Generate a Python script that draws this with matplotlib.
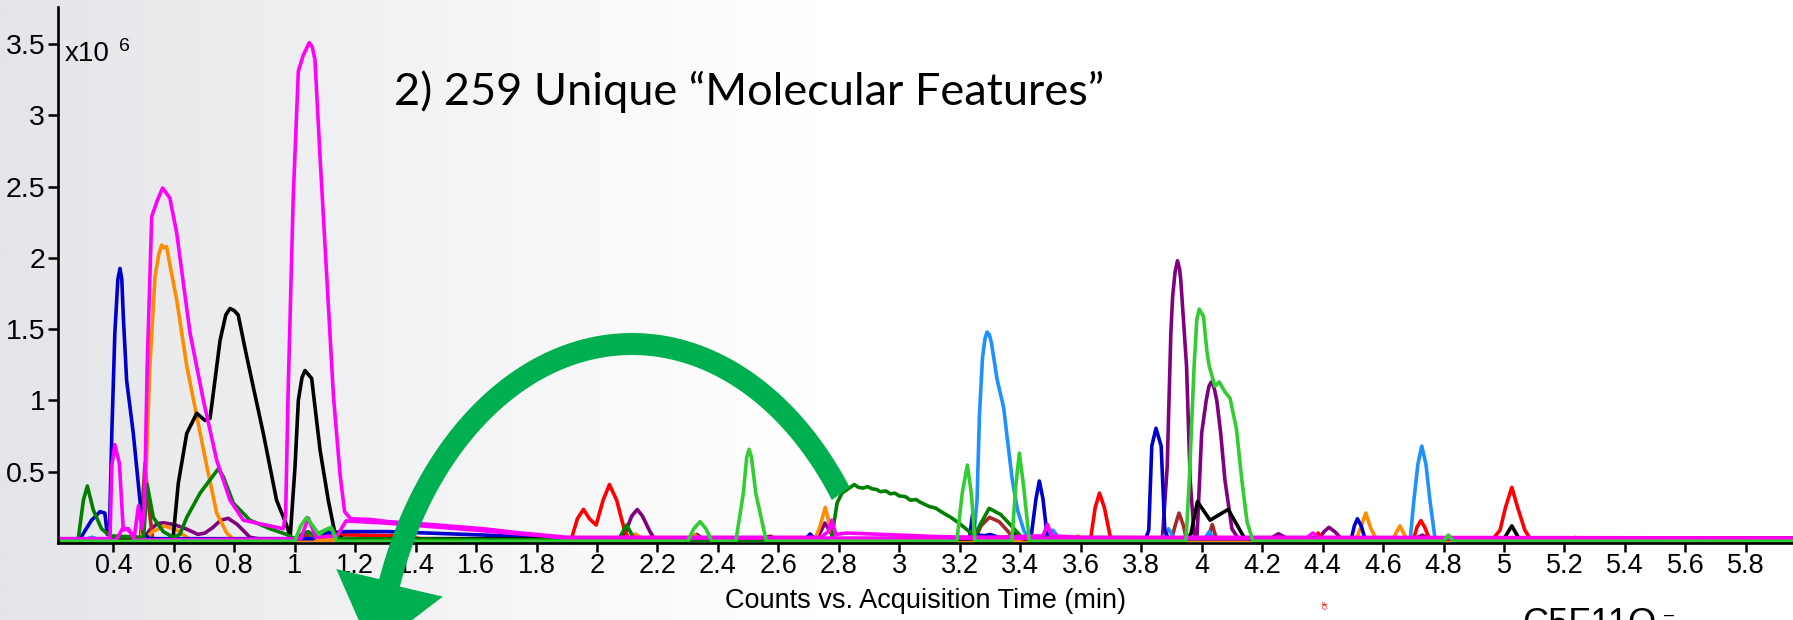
import numpy as np
import matplotlib
matplotlib.use("Agg")
import matplotlib.pyplot as plt
import matplotlib.transforms as mtransforms
from matplotlib.patches import Polygon

# retention time (min) / counts (x10^6)
t_magenta = [0.22, 0.38, 0.389, 0.395, 0.405, 0.420, 0.433, 0.44, 0.45, 0.47, 0.483, 0.495, 0.503,
             0.512, 0.527, 0.545, 0.563, 0.587, 0.610, 0.630, 0.654, 0.698, 0.742, 0.786, 0.830,
             0.896, 0.962, 0.970, 0.978, 0.995, 1.012, 1.028, 1.037, 1.048, 1.058, 1.067, 1.084,
             1.106, 1.128, 1.150, 1.165, 1.185, 1.25, 1.307, 1.45, 1.623, 1.75, 1.902, 2.0, 2.74,
             2.765, 2.776, 2.79, 2.826, 3.138, 3.3, 3.475, 3.49, 3.505, 3.6, 4.35, 4.368, 4.385,
             5.956]
i_magenta = [0.03, 0.03, 0.04, 0.54, 0.69, 0.56, 0.09, 0.10, 0.09, 0.05, 0.26, 0.10, 0.25,
             1.24, 2.29, 2.40, 2.49, 2.42, 2.17, 1.85, 1.47, 1.00, 0.58, 0.30, 0.16,
             0.13, 0.10, 0.20, 1.04, 2.42, 3.31, 3.42, 3.46, 3.51, 3.48, 3.39, 2.70,
             1.87, 1.035, 0.48, 0.22, 0.17, 0.165, 0.15, 0.13, 0.10, 0.07, 0.04, 0.04, 0.04,
             0.08, 0.16, 0.06, 0.07, 0.044, 0.04, 0.05, 0.13, 0.05, 0.04, 0.04, 0.07, 0.04,
             0.035]

t_magenta2 = [0.22, 0.41, 0.43, 0.45, 0.47, 1.02, 1.045, 1.07, 1.14, 1.17, 1.3, 1.6, 1.9, 5.956]
i_magenta2 = [0.02, 0.02, 0.10, 0.10, 0.02, 0.03, 0.175, 0.04, 0.05, 0.155, 0.14, 0.09, 0.035, 0.03]

t_orange = [0.22, 0.48, 0.494, 0.505, 0.521, 0.538, 0.550, 0.560, 0.568, 0.576, 0.590, 0.610,
            0.643, 0.676, 0.709, 0.742, 0.775, 0.80, 2.09, 2.126, 2.16, 2.29, 2.32, 2.35, 2.55,
            2.575, 2.60, 2.72, 2.738, 2.755, 2.77, 2.785, 3.57, 3.59, 3.61, 4.51, 4.528, 4.543,
            4.56, 4.58, 4.63, 4.656, 4.68, 5.21, 5.235, 5.26, 5.956]
i_orange = [0.02, 0.02, 0.05, 0.30, 1.24, 1.87, 2.02, 2.09, 2.07, 2.08, 1.92, 1.70,
            1.24, 0.89, 0.54, 0.21, 0.07, 0.02, 0.02, 0.063, 0.02, 0.02, 0.06, 0.02, 0.02,
            0.05, 0.02, 0.02, 0.12, 0.25, 0.12, 0.02, 0.02, 0.05, 0.02, 0.02, 0.12, 0.21,
            0.10, 0.02, 0.02, 0.12, 0.02, 0.02, 0.04, 0.02, 0.02]

t_orange2 = [0.22, 0.50, 0.53, 0.57, 0.61, 0.65, 5.956]
i_orange2 = [0.02, 0.02, 0.08, 0.12, 0.09, 0.03, 0.02]

t_blue = [0.22, 0.29, 0.328, 0.356, 0.372, 0.38, 0.387, 0.395, 0.405, 0.415, 0.422, 0.428, 0.433,
          0.444, 0.466, 0.488, 0.499, 0.52, 1.06, 1.10, 1.172, 1.307, 1.623, 1.90, 2.69, 2.705,
          2.72, 3.232, 3.242, 3.252, 3.28, 3.30, 3.33, 3.435, 3.452, 3.463, 3.475, 3.49, 3.815,
          3.825, 3.835, 3.849, 3.866, 3.878, 3.89, 4.495, 4.505, 4.515, 4.528, 4.54, 5.956]
i_blue = [0.02, 0.03, 0.16, 0.22, 0.21, 0.06, 0.07, 0.77, 1.47, 1.85, 1.926, 1.85, 1.59,
          1.14, 0.77, 0.30, 0.07, 0.03, 0.03, 0.07, 0.08, 0.08, 0.056, 0.03, 0.03, 0.063,
          0.03, 0.03, 0.20, 0.06, 0.05, 0.06, 0.04, 0.03, 0.31, 0.435, 0.31, 0.03, 0.03,
          0.09, 0.68, 0.805, 0.68, 0.09, 0.03, 0.03, 0.12, 0.17, 0.12, 0.03, 0.03]

t_black = [0.22, 0.59, 0.598, 0.615, 0.643, 0.676, 0.703, 0.720, 0.753, 0.772, 0.786, 0.800,
           0.813, 0.841, 0.896, 0.940, 0.973, 0.985, 1.001, 1.012, 1.024, 1.034, 1.046, 1.056,
           1.084, 1.111, 1.133, 1.16, 2.55, 2.57, 2.59, 3.36, 3.385, 3.41, 3.955, 3.965, 3.986,
           4.028, 4.088, 4.14, 4.16, 5.00, 5.026, 5.05, 5.956]
i_black = [0.02, 0.02, 0.044, 0.42, 0.77, 0.91, 0.86, 0.875, 1.42, 1.60, 1.645, 1.63,
           1.60, 1.31, 0.77, 0.30, 0.126, 0.04, 0.535, 1.00, 1.16, 1.21, 1.18, 1.155,
           0.65, 0.30, 0.07, 0.03, 0.03, 0.045, 0.03, 0.03, 0.07, 0.03, 0.03, 0.07, 0.29,
           0.16, 0.236, 0.04, 0.03, 0.03, 0.12, 0.03, 0.03]

t_dkgreen = [0.22, 0.284, 0.301, 0.314, 0.334, 0.361, 0.389, 0.50, 0.512, 0.532, 0.565, 0.598,
             0.62, 0.643, 0.687, 0.747, 0.764, 0.797, 0.852, 0.918, 0.973, 1.0, 1.03, 1.045,
             1.065, 1.10, 1.122, 1.145, 2.07, 2.098, 2.125, 2.775, 2.794, 2.81, 2.851, 2.865,
             2.88, 2.895, 2.91, 2.925, 2.937, 2.955, 2.97, 2.985, 3.0, 3.02, 3.037, 3.055, 3.07,
             3.085, 3.10, 3.12, 3.138, 3.17, 3.197, 3.237, 3.25, 3.265, 3.297, 3.335, 3.362,
             3.405, 5.956]
i_dkgreen = [0.02, 0.03, 0.30, 0.40, 0.23, 0.10, 0.05, 0.04, 0.41, 0.18, 0.08, 0.04,
             0.06, 0.18, 0.35, 0.52, 0.465, 0.28, 0.16, 0.10, 0.06, 0.03, 0.07, 0.08,
             0.05, 0.09, 0.105, 0.03, 0.02, 0.126, 0.02, 0.02, 0.28, 0.35, 0.41, 0.39,
             0.385, 0.395, 0.38, 0.375, 0.36, 0.365, 0.345, 0.35, 0.33, 0.325, 0.30, 0.305,
             0.285, 0.27, 0.255, 0.245, 0.22, 0.18, 0.14, 0.07, 0.05, 0.12, 0.243, 0.20,
             0.14, 0.04, 0.02]

t_lime = [0.22, 1.0, 1.02, 1.040, 1.06, 1.08, 1.10, 1.12, 1.14, 2.30, 2.32, 2.341, 2.36, 2.38,
          2.459, 2.484, 2.495, 2.503, 2.511, 2.525, 2.560, 3.19, 3.208, 3.225, 3.238, 3.25,
          3.372, 3.385, 3.397, 3.411, 3.43, 3.948, 3.959, 3.975, 3.984, 3.992, 4.006, 4.017,
          4.025, 4.044, 4.058, 4.077, 4.094, 4.115, 4.133, 4.15, 4.170, 4.80, 4.816, 4.835,
          5.956]
i_lime = [0.012, 0.012, 0.12, 0.18, 0.12, 0.06, 0.09, 0.11, 0.012, 0.012, 0.10, 0.15, 0.10,
          0.012, 0.012, 0.35, 0.60, 0.657, 0.60, 0.35, 0.012, 0.012, 0.35, 0.547, 0.35, 0.012,
          0.012, 0.40, 0.63, 0.40, 0.012, 0.012, 0.44, 1.24, 1.57, 1.64, 1.59, 1.35,
          1.24, 1.10, 1.13, 1.06, 1.015, 0.80, 0.44, 0.15, 0.012, 0.012, 0.056, 0.012,
          0.012]

t_purple = [0.22, 0.50, 0.52, 0.545, 0.565, 0.60, 0.64, 0.68, 0.703, 0.73, 0.755, 0.780, 0.81,
            0.852, 0.88, 2.08, 2.095, 2.115, 2.133, 2.15, 2.175, 2.19, 2.31, 2.33, 2.35, 2.725,
            2.74, 2.754, 2.768, 2.785, 3.87, 3.886, 3.898, 3.904, 3.912, 3.920, 3.927, 3.931,
            3.939, 3.950, 3.962, 3.975, 3.985, 4.000, 4.015, 4.024, 4.032, 4.041, 4.050, 4.063,
            4.077, 4.10, 4.12, 4.23, 4.254, 4.28, 4.39, 4.405, 4.421, 4.44, 4.46, 4.71, 4.73,
            4.75, 5.956]
i_purple = [0.03, 0.03, 0.09, 0.135, 0.142, 0.13, 0.10, 0.06, 0.07, 0.11, 0.16, 0.173, 0.13,
            0.04, 0.03, 0.03, 0.08, 0.19, 0.235, 0.19, 0.08, 0.03, 0.03, 0.06, 0.03, 0.03,
            0.08, 0.14, 0.09, 0.03, 0.03, 0.535, 1.47, 1.73, 1.90, 1.98, 1.92, 1.84,
            1.59, 1.24, 0.44, 0.06, 0.06, 0.77, 1.00, 1.10, 1.13, 1.09, 1.00, 0.77,
            0.44, 0.10, 0.035, 0.035, 0.065, 0.035, 0.035, 0.08, 0.11, 0.08, 0.035, 0.035,
            0.055, 0.035, 0.035]

t_red = [0.22, 1.08, 1.10, 1.35, 1.45, 1.914, 1.935, 1.955, 1.975, 1.997, 2.02, 2.041, 2.065,
         2.092, 2.11, 3.632, 3.648, 3.662, 3.678, 3.70, 4.37, 4.385, 4.40, 4.70, 4.712, 4.725,
         4.738, 4.755, 4.96, 4.987, 5.005, 5.026, 5.045, 5.069, 5.09, 5.956]
i_red = [0.02, 0.02, 0.06, 0.05, 0.02, 0.02, 0.17, 0.236, 0.17, 0.126, 0.30, 0.41, 0.30,
         0.08, 0.02, 0.02, 0.25, 0.35, 0.25, 0.02, 0.02, 0.07, 0.02, 0.02, 0.11, 0.157,
         0.11, 0.02, 0.02, 0.09, 0.25, 0.39, 0.25, 0.09, 0.02, 0.02]

t_dodger = [0.22, 0.30, 0.33, 0.36, 3.245, 3.257, 3.265, 3.275, 3.283, 3.29, 3.298, 3.305, 3.323,
            3.345, 3.355, 3.373, 3.391, 3.413, 3.433, 3.49, 3.508, 3.53, 3.87, 3.89, 3.91, 4.01,
            4.025, 4.04, 4.69, 4.702, 4.715, 4.728, 4.742, 4.755, 4.772, 5.956]
i_dodger = [0.02, 0.02, 0.04, 0.02, 0.03, 0.3, 0.9, 1.3, 1.43, 1.48, 1.46, 1.40, 1.15,
            0.95, 0.77, 0.45, 0.23, 0.08, 0.03, 0.03, 0.09, 0.03, 0.03, 0.10, 0.03, 0.03,
            0.08, 0.03, 0.03, 0.30, 0.55, 0.68, 0.55, 0.30, 0.03, 0.02]

t_brown = [0.22, 0.49, 0.497, 0.505, 0.515, 0.53, 1.02, 1.04, 1.06, 3.25, 3.27, 3.298, 3.33,
           3.36, 3.38, 3.90, 3.912, 3.925, 3.94, 3.95, 4.02, 4.035, 4.05, 5.956]
i_brown = [0.02, 0.02, 0.30, 0.56, 0.30, 0.03, 0.02, 0.06, 0.02, 0.02, 0.12, 0.18, 0.15,
           0.08, 0.02, 0.02, 0.12, 0.21, 0.12, 0.02, 0.02, 0.13, 0.02, 0.02]

x_ticks = [0.4, 0.6, 0.8, 1, 1.2, 1.4, 1.6, 1.8, 2, 2.2, 2.4, 2.6, 2.8, 3, 3.2, 3.4, 3.6, 3.8,
           4, 4.2, 4.4, 4.6, 4.8, 5, 5.2, 5.4, 5.6, 5.8]
y_ticks = [0.5, 1, 1.5, 2, 2.5, 3, 3.5]

W, H = 1793, 620

fig = plt.figure(figsize=(W / 100, H / 100), dpi=100)
# pixel coords (origin top-left) -> figure
px = mtransforms.Affine2D().scale(1 / W, -1 / H).translate(0, 1) + fig.transFigure

# slide background: grey on the left fading to white
bg = fig.add_axes([0, 0, 1, 1], zorder=-5)
gx = np.linspace(0, W, 600)
frac = np.clip(1 - gx / 820, 0, 1) ** 1.1
dark = np.array([228, 229, 232]) / 255
grad = 1 - frac[:, None] * (1 - dark[None, :])
bg.imshow(grad[None, :, :], extent=[0, 1, 0, 1], aspect="auto")
bg.axis("off")

ax = fig.add_axes([57.7 / W, 1 - 543 / H, 1 - 57.7 / W, (543 - 7) / H])
ax.patch.set_alpha(0)

traces = [
    (t_purple, i_purple, "#800080"),
    (t_brown, i_brown, "#A52A2A"),
    (t_dodger, i_dodger, "#1E90FF"),
    (t_red, i_red, "#FF0000"),
    (t_orange2, i_orange2, "#FF8C00"),
    (t_orange, i_orange, "#FF8C00"),
    (t_blue, i_blue, "#0000CD"),
    (t_black, i_black, "#000000"),
    (t_dkgreen, i_dkgreen, "#008000"),
    (t_magenta2, i_magenta2, "#FF00FF"),
    (t_magenta, i_magenta, "#FF00FF"),
    (t_lime, i_lime, "#32CD32"),
]
for t, i, c in traces:
    ax.plot(t, i, color=c, lw=2.6, solid_joinstyle="round", solid_capstyle="round")

ax.set_xlim(0.216, 5.956)
ax.set_ylim(0, 3.76)
for s in ["top", "right"]:
    ax.spines[s].set_visible(False)
for s in ["left", "bottom"]:
    ax.spines[s].set_linewidth(1.9)
ax.set_xticks(x_ticks)
ax.set_xticklabels([f"{v:g}" for v in x_ticks], fontsize=19.5, family="Liberation Sans")
ax.set_yticks(y_ticks)
ax.set_yticklabels([f"{v:g}" for v in y_ticks], fontsize=20.5, family="Liberation Sans")
ax.tick_params(axis="x", length=6.5, width=1.8, pad=1)
ax.tick_params(axis="y", length=7, width=1.8, pad=2)
ax.set_xlabel("Counts vs. Acquisition Time (min)", fontsize=19.5, family="Liberation Sans")
ax.xaxis.set_label_coords(0.5, -0.108)
ax.xaxis.label.set_verticalalignment("center")

# exponent label
fig.text(65, 60.7, "x10", transform=px, fontsize=20, family="Liberation Sans", va="baseline")
fig.text(119, 50.7, "6", transform=px, fontsize=14, family="Liberation Sans", va="baseline")

fig.text(394, 105, "2) 259 Unique \u201cMolecular Features\u201d", transform=px,
         fontsize=32.5, family="Lato", va="baseline")

# bits of the slide below the chart (cut off by the slide edge as in the original)
fig.text(1521.7, 634, "C5F11O", transform=px, fontsize=26, family="Liberation Sans", va="baseline")
fig.text(1664, 620, "\u2013", transform=px, fontsize=13, family="Liberation Sans", va="baseline")
fig.text(1326, 604, "OF", transform=px, fontsize=5, color="red", rotation=90,
         ha="center", va="center")

# big curved green arrow
cx, cy, a, b, half = 632, 707, 258, 363, 11
th = np.radians(np.linspace(36, 160, 150))
outer = np.column_stack([cx + (a + half) * np.cos(th), cy - (b + half) * np.sin(th)])
inner = np.column_stack([cx + (a - half) * np.cos(th), cy - (b - half) * np.sin(th)])[::-1]
end = np.array([cx + a * np.cos(th[-1]), cy - b * np.sin(th[-1])])
tang = np.array([-a * np.sin(th[-1]), -b * np.cos(th[-1])])
tang /= np.linalg.norm(tang)
nrm = np.array([tang[1], -tang[0]])
head = [end - 55 * nrm, end + 70 * tang, end + 55 * nrm]
arrow = Polygon(np.vstack([outer, head, inner]), closed=True, transform=px,
                facecolor="#00B050", edgecolor="none", zorder=20)
fig.add_artist(arrow)

plt.savefig("out.png", dpi=100)
